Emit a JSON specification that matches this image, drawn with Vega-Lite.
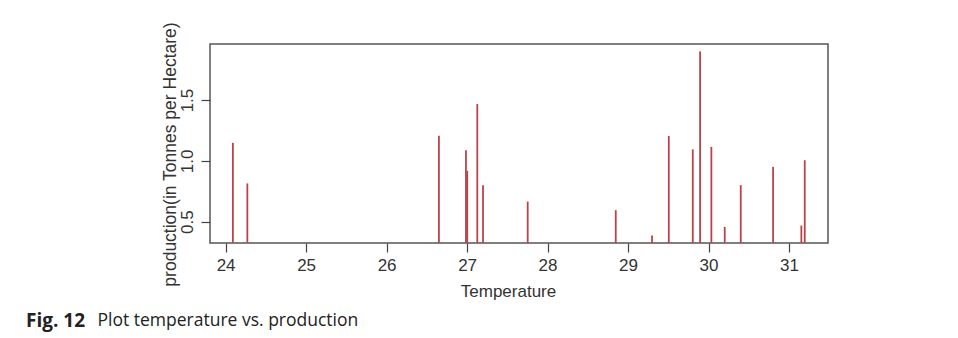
{
  "$schema": "https://vega.github.io/schema/vega-lite/v6.json",
  "width": 618,
  "height": 199,
  "autosize": {"type": "none"},
  "padding": {"left": 210, "top": 44, "right": 130, "bottom": 95},
  "background": "white",
  "title": {
    "text": "Fig. 12",
    "orient": "bottom",
    "anchor": "start",
    "frame": "group",
    "font": "Open Sans",
    "fontSize": 19,
    "fontWeight": "bold",
    "color": "#222222",
    "offset": 0,
    "dx": -184,
    "dy": -17
  },
  "data": {
    "values": [
      {"temperature": 24.09, "production": 1.148},
      {"temperature": 24.27, "production": 0.814},
      {"temperature": 26.65, "production": 1.206},
      {"temperature": 26.986, "production": 1.088},
      {"temperature": 27.002, "production": 0.918},
      {"temperature": 27.127, "production": 1.467},
      {"temperature": 27.198, "production": 0.8},
      {"temperature": 27.753, "production": 0.665},
      {"temperature": 28.847, "production": 0.594},
      {"temperature": 29.298, "production": 0.385},
      {"temperature": 29.506, "production": 1.204},
      {"temperature": 29.804, "production": 1.094},
      {"temperature": 29.895, "production": 1.9},
      {"temperature": 30.035, "production": 1.115},
      {"temperature": 30.201, "production": 0.456},
      {"temperature": 30.4, "production": 0.8},
      {"temperature": 30.802, "production": 0.95},
      {"temperature": 31.153, "production": 0.467},
      {"temperature": 31.195, "production": 1.005}
    ]
  },
  "layer": [
    {
      "mark": {"type": "rule", "clip": true, "color": "#b8434b", "strokeWidth": 1.8},
      "encoding": {
        "x": {
          "field": "temperature",
          "type": "quantitative",
          "scale": {"domain": [23.806, 31.484], "nice": false, "zero": false},
          "axis": {
            "values": [24, 25, 26, 27, 28, 29, 30, 31],
            "format": "d",
            "title": "Temperature",
            "titleX": 298,
            "titleY": 40,
            "titleBaseline": "top",
            "titleAlign": "center"
          }
        },
        "y": {
          "field": "production",
          "type": "quantitative",
          "scale": {"domain": [0.324, 1.961], "nice": false, "zero": false},
          "axis": {
            "values": [0.5, 1.0, 1.5],
            "format": ".1f",
            "labelAngle": 270,
            "labelAlign": "center",
            "labelBaseline": "bottom",
            "title": "production(in Tonnes per Hectare)",
            "titleX": -31,
            "titleY": 110,
            "titleAngle": 270,
            "titleAlign": "center",
            "titleBaseline": "bottom",
            "titleFontSize": 17.5
          }
        },
        "y2": {"datum": 0}
      }
    },
    {
      "mark": {"type": "rule", "clip": true, "opacity": 0},
      "encoding": {
        "x": {
          "field": "temperature",
          "type": "quantitative",
          "scale": {"domain": [23.806, 31.484], "nice": false, "zero": false},
          "axis": {
            "orient": "bottom",
            "labels": false,
            "ticks": false,
            "domain": false,
            "title": "Plot temperature vs. production",
            "titleFont": "Open Sans",
            "titleFontSize": 17.5,
            "titleColor": "#222222",
            "titleX": -113,
            "titleY": 82,
            "titleAlign": "left",
            "titleBaseline": "alphabetic"
          }
        },
        "y": {"field": "production", "type": "quantitative"},
        "y2": {"datum": 0}
      }
    }
  ],
  "resolve": {"scale": {"x": "independent"}, "axis": {"x": "independent"}},
  "config": {
    "view": {"stroke": "#555555", "strokeWidth": 1.5},
    "axis": {
      "domain": false,
      "grid": false,
      "tickColor": "#444444",
      "tickSize": 9,
      "tickWidth": 1.2,
      "labelFont": "Liberation Sans",
      "labelFontSize": 17,
      "labelColor": "#333333",
      "labelPadding": 5,
      "titleFont": "Liberation Sans",
      "titleFontSize": 17,
      "titleFontWeight": "normal",
      "titleColor": "#333333"
    }
  }
}
